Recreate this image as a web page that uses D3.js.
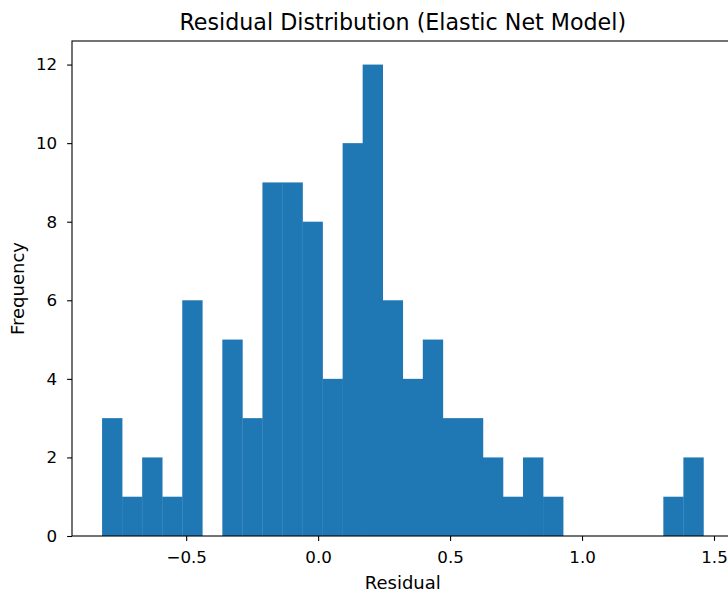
<!DOCTYPE html>
<html><head><meta charset="utf-8">
<script src="https://cdn.jsdelivr.net/npm/d3@7"></script>
<style>body{margin:0;background:#fff;} text{font-family:"DejaVu Sans",sans-serif;}</style>
</head><body>
<svg id="chart" width="728" height="593"></svg>
<script>
const binStart = -0.8187;
const binEnd = 1.4600;
const counts = [3,1,2,1,6,0,5,3,9,9,8,4,10,12,6,4,5,3,3,2,1,2,1,0,0,0,0,0,1,2];
const xTicks = [-0.5, 0.0, 0.5, 1.0, 1.5];
const yTicks = [0,2,4,6,8,10,12];
const title = "Residual Distribution (Elastic Net Model)";
const xLabel = "Residual";
const yLabel = "Frequency";

const nb = counts.length, bw = (binEnd - binStart) / nb;
const bins = counts.map((c, i) => ({x0: binStart + i*bw, x1: binStart + (i+1)*bw, c}));
const R = binEnd - binStart;
const svg = d3.select("#chart");
const L = 72, Rt = 733.5, T = 41, B = 536;
const x = d3.scaleLinear().domain([binStart - 0.05*R, binEnd + 0.05*R]).range([L, Rt]);
const y = d3.scaleLinear().domain([0, 12.6]).range([B, T]);

svg.append("g").selectAll("rect").data(bins.filter(d => d.c > 0)).join("rect")
  .attr("x", d => x(d.x0)).attr("width", d => x(d.x1) - x(d.x0) + 0.3)
  .attr("y", d => y(d.c)).attr("height", d => y(0) - y(d.c))
  .attr("fill", "#1f77b4");

const fmt = d => d.toFixed(1).replace("-", "\u2212");
const xa = svg.append("g").attr("transform", `translate(0,${B})`)
  .call(d3.axisBottom(x).tickValues(xTicks).tickFormat(fmt).tickSize(4.9).tickPadding(6));
const ya = svg.append("g").attr("transform", `translate(${L},0)`)
  .call(d3.axisLeft(y).tickValues(yTicks).tickFormat(d3.format("d")).tickSize(4.9).tickPadding(10));
[xa, ya].forEach(a => {
  a.select(".domain").remove();
  a.selectAll("line").attr("stroke", "#000").attr("stroke-width", 1.1);
  a.selectAll("text").attr("font-size", "16.7px").attr("fill", "#000").attr("font-family", "DejaVu Sans");
});
xa.selectAll("text").attr("dy", null).attr("y", null).attr("dominant-baseline", null)
  .attr("y", 563 - B);
// spines
svg.append("rect").attr("x", L).attr("y", T).attr("width", Rt - L).attr("height", B - T)
  .attr("fill", "none").attr("stroke", "#000").attr("stroke-width", 1.1);

svg.append("text").attr("x", (L + Rt)/2).attr("y", 30).attr("text-anchor", "middle")
  .attr("font-size", "22.2px").text(title);
svg.append("text").attr("x", (L + Rt)/2).attr("y", 589).attr("text-anchor", "middle")
  .attr("font-size", "18px").text(xLabel);
svg.append("text").attr("transform", `translate(23.5,${(T+B)/2}) rotate(-90)`).attr("text-anchor", "middle")
  .attr("font-size", "18px").text(yLabel);
</script>
</body></html>
